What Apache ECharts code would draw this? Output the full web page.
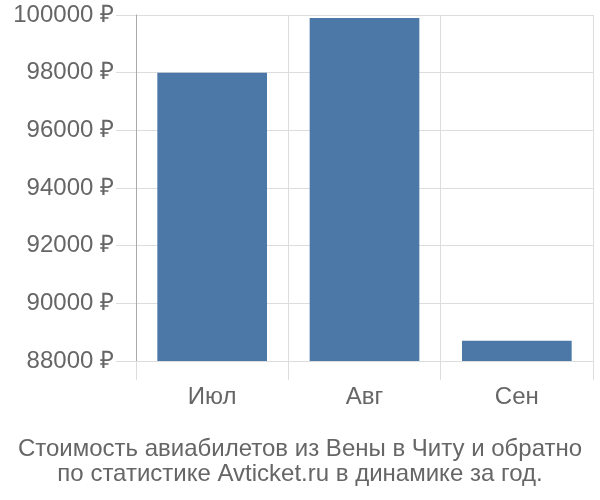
<!DOCTYPE html>
<html><head><meta charset="utf-8">
<script src="https://cdn.jsdelivr.net/npm/echarts@6/dist/echarts.min.js"></script>
<style>html,body{margin:0;padding:0;background:#fff}#c{width:600px;height:500px}</style>
</head><body><div id="c"></div>
<script>
const categories = ['Июл', 'Авг', 'Сен'];
const prices = [98000, 99900, 88700];
const yMin = 88000, yMax = 100000, yStep = 2000;
const titleLines = ['Стоимость авиабилетов из Вены в Читу и обратно', 'по статистике Avticket.ru в динамике за год.'];

const chart = echarts.init(document.getElementById('c'), null, {renderer: 'canvas'});
chart.setOption({
  animation: false,
  textStyle: {fontFamily: 'Liberation Sans, Arial, sans-serif'},
  title: {
    text: titleLines.join('\n'),
    left: 'center', top: 432,
    textStyle: {fontSize: 24, fontWeight: 'normal', color: '#666', lineHeight: 25, fontFamily: 'Liberation Sans'}
  },
  grid: {left: 136, right: 7, top: 15, bottom: 139},
  xAxis: {
    type: 'category', data: categories,
    axisLine: {show: false},
    axisTick: {show: true, length: 19, lineStyle: {color: '#ddd'}},
    splitLine: {show: true, lineStyle: {color: '#ddd', width: 1}},
    axisLabel: {fontSize: 24, color: '#666', margin: 24}
  },
  yAxis: {
    type: 'value', min: yMin, max: yMax, interval: yStep,
    axisLine: {show: true, lineStyle: {color: '#aaa'}},
    axisTick: {show: true, length: 20, lineStyle: {color: '#ddd'}},
    splitLine: {show: true, lineStyle: {color: '#ddd'}},
    axisLabel: {fontSize: 24, color: '#666', margin: 22, formatter: v => v + ' ₽'}
  },
  series: [{
    type: 'bar', data: prices, barWidth: '72%',
    itemStyle: {color: '#4c78a8'}
  }]
});
</script></body></html>
